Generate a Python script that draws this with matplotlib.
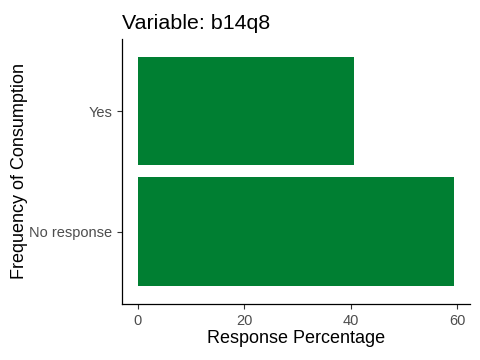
import matplotlib
matplotlib.use("Agg")
import matplotlib.pyplot as plt

categories = ["No response", "Yes"]
percentages = [59.4, 40.6]
x_ticks = [0, 20, 40, 60]

plt.rcParams['font.family'] = ['Liberation Sans', 'DejaVu Sans']

fig = plt.figure(figsize=(4.8, 3.6), dpi=100)
ax = fig.add_axes([0.254, 0.156, 0.725, 0.736])

ax.barh(range(1, len(categories) + 1), percentages, height=0.9, color='#007F32')
ax.set_yticks(range(1, len(categories) + 1))
ax.set_yticklabels(categories)
ax.set_xticks(x_ticks)
ax.set_ylim(0.4, 2.6)
ax.set_xlim(-0.05 * max(percentages), max(percentages) * 1.05)

for s in ['top', 'right']:
    ax.spines[s].set_visible(False)
for s in ['left', 'bottom']:
    ax.spines[s].set_linewidth(0.9)
ax.tick_params(axis='both', colors='#333333', labelcolor='#4D4D4D', labelsize=10.5, length=3.5, width=0.8)

ax.set_xlabel("Response Percentage", fontsize=13, labelpad=2)
ax.set_ylabel("Frequency of Consumption", fontsize=13, labelpad=1)
ax.set_title("Variable: b14q8", fontsize=15.4, loc='left', pad=7)

fig.savefig("out.png", dpi=100)
